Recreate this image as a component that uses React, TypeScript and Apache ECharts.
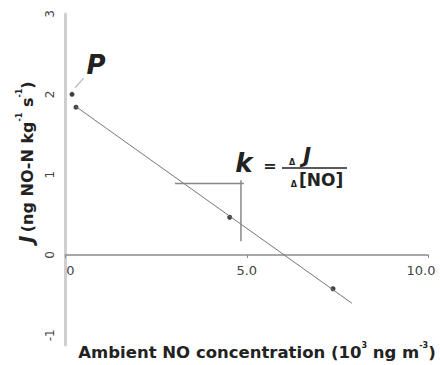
import React, { useEffect, useRef } from "react";
import * as echarts from "echarts";

const xTicks = [0, 5, 10];
const xTickLabels = ["0", "5.0", "10.0"];
const yTicks = [-1, 0, 1, 2, 3];
const pointP: number[][] = [[0.18, 2.0]];
const measured: number[][] = [
  [0.29, 1.84],
  [4.53, 0.47],
  [7.38, -0.42],
];
const fitLine: number[][] = [
  [0.28, 1.85],
  [7.9, -0.6],
];
const triH: number[][] = [
  [3.02, 0.89],
  [4.92, 0.89],
];
const triV: number[][] = [
  [4.84, 0.93],
  [4.84, 0.17],
];
const pLeader: number[][] = [
  [0.26, 2.08],
  [0.5, 2.2],
];

const FONT = "DejaVu Sans, Verdana, sans-serif";
const TXT = "#222";

export default function App() {
  const ref = useRef<HTMLDivElement>(null);
  useEffect(() => {
    if (!ref.current) return;
    const chart = echarts.init(ref.current, undefined, { renderer: "svg" });
    const lineSeries = (data: number[][], color: string, width: number) => ({
      type: "line",
      data,
      symbol: "none",
      lineStyle: { color, width },
      silent: true,
    });
    chart.setOption({
      animation: false,
      backgroundColor: "#fff",
      grid: { left: 65.5, right: 12, top: 14, bottom: 20, containLabel: false },
      xAxis: {
        type: "value",
        min: 0,
        max: 10,
        interval: 5,
        offset: -90,
        axisLine: { onZero: false, lineStyle: { color: "#8a8a8a", width: 1.5 } },
        axisTick: { show: true, length: 3, inside: false, lineStyle: { color: "#8a8a8a" } },
        splitLine: { show: false },
        axisLabel: {
          margin: 9,
          fontFamily: FONT,
          fontSize: 13,
          color: "#444",
          formatter: (v: number) => {
            const i = xTicks.indexOf(v);
            const t = i >= 0 ? xTickLabels[i] : "";
            if (v === 0) return "{l|" + t + "}";
            if (v === 10) return "{r|" + t + "}";
            return t;
          },
          rich: {
            l: { padding: [0, 0, 0, 10], fontFamily: FONT, fontSize: 13, color: "#444" },
            r: { padding: [0, 14, 0, 0], fontFamily: FONT, fontSize: 13, color: "#444" },
          },
        },
      },
      yAxis: {
        type: "value",
        min: -1.12,
        max: 3,
        axisLine: { show: true, onZero: false, lineStyle: { color: "#cfcfcf", width: 3 } },
        axisTick: { show: false },
        splitLine: { show: false },
        axisLabel: {
          customValues: yTicks,
          rotate: 90,
          margin: 10,
          fontFamily: FONT,
          fontSize: 12,
          color: "#444",
          formatter: (v: number) => String(v),
        },
      },
      series: [
        lineSeries(fitLine, "#777", 1),
        lineSeries(triH, "#888", 1.5),
        lineSeries(triV, "#888", 1.5),
        lineSeries(pLeader, "#bbb", 1.2),
        {
          type: "scatter",
          data: pointP.concat(measured),
          symbol: "circle",
          symbolSize: 5,
          itemStyle: { color: "#111" },
          silent: true,
        },
      ],
      graphic: [
        {
          type: "text",
          x: 96,
          y: 65,
          style: {
            text: "P",
            font: "italic bold 26px " + FONT,
            fill: TXT,
            align: "center",
            verticalAlign: "middle",
          },
        },
        {
          type: "text",
          x: 244,
          y: 163,
          style: {
            text: "k",
            font: "italic bold 26px " + FONT,
            fill: TXT,
            align: "center",
            verticalAlign: "middle",
          },
        },
        {
          type: "text",
          x: 270,
          y: 165,
          style: {
            text: "=",
            font: "bold 16px " + FONT,
            fill: TXT,
            align: "center",
            verticalAlign: "middle",
          },
        },
        {
          type: "text",
          x: 300,
          y: 156,
          style: {
            text: "{d|Δ}{j|J}",
            align: "center",
            verticalAlign: "middle",
            rich: {
              d: { font: "bold 8px " + FONT, fill: TXT, verticalAlign: "bottom", padding: [0, 8, 0, 0] },
              j: { font: "italic bold 21px " + FONT, fill: TXT, verticalAlign: "bottom" },
            },
          },
        },
        {
          type: "line",
          shape: { x1: 282, y1: 168, x2: 347, y2: 168 },
          style: { stroke: TXT, lineWidth: 1.3 },
        },
        {
          type: "text",
          x: 317,
          y: 180,
          style: {
            text: "{d|Δ}{n|[NO]}",
            align: "center",
            verticalAlign: "middle",
            rich: {
              d: { font: "bold 8px " + FONT, fill: TXT, verticalAlign: "bottom", padding: [0, 2, 0, 0] },
              n: { font: "bold 17px " + FONT, fill: TXT, verticalAlign: "bottom" },
            },
          },
        },
        {
          type: "text",
          x: 25,
          y: 162,
          rotation: Math.PI / 2,
          style: {
            text: "{j|J} {t|(ng NO-N kg}{s|-1}{t| s}{s|-1}{t|)}",
            align: "center",
            verticalAlign: "middle",
            rich: {
              j: { font: "italic bold 19px " + FONT, fill: TXT, verticalAlign: "bottom", lineHeight: 20 },
              t: { font: "bold 16px " + FONT, fill: TXT, verticalAlign: "bottom", lineHeight: 20 },
              s: { font: "bold 8px " + FONT, fill: TXT, verticalAlign: "top", lineHeight: 20 },
            },
          },
        },
        {
          type: "text",
          x: 257,
          y: 351,
          style: {
            text: "{t|Ambient NO concentration (10}{s|3}{t| ng m}{s|-3}{t|)}",
            align: "center",
            verticalAlign: "middle",
            rich: {
              t: { font: "bold 16.5px " + FONT, fill: TXT, verticalAlign: "bottom", lineHeight: 20 },
              s: { font: "bold 8px " + FONT, fill: TXT, verticalAlign: "top", lineHeight: 20 },
            },
          },
        },
      ],
    });
    return () => chart.dispose();
  }, []);
  return (
    <div
      ref={ref}
      style={{ position: "fixed", left: 0, top: 0, width: 440, height: 365, background: "#fff" }}
    />
  );
}
